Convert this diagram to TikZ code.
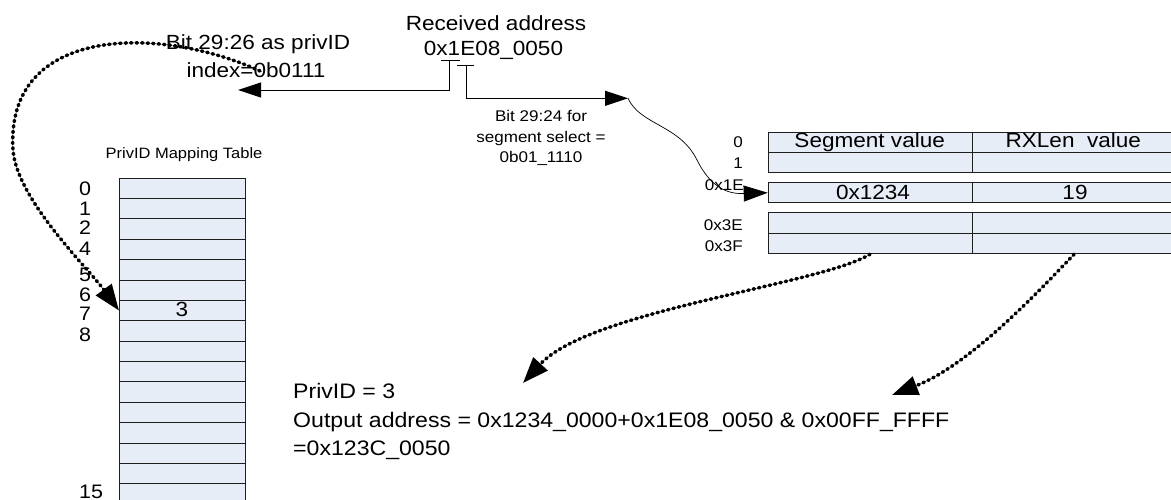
\documentclass[tikz,border=0pt]{standalone}
\usepackage{fontspec}
\setmainfont{Liberation Sans}[FakeStretch=1.1]
\usetikzlibrary{arrows.meta}
\definecolor{cellfill}{RGB}{231,237,247}
\definecolor{edge}{RGB}{30,30,30}
\tikzset{
  cell/.style={draw=edge, line width=0.9pt, fill=cellfill, inner sep=0pt, anchor=north west},
  big/.style={font=\fontsize{20.5}{24}\selectfont, inner sep=0pt, anchor=base},
  bigw/.style={font=\fontsize{21}{24}\selectfont, inner sep=0pt, anchor=base west},
  small/.style={font=\fontsize{15.5}{18}\selectfont, inner sep=0pt, anchor=base},
  smalle/.style={small, anchor=base east},
  digit/.style={font=\fontsize{19.5}{22}\selectfont, inner sep=0pt, anchor=base west},
  thin/.style={draw=black, line width=0.9pt},
  thinarrow/.style={thin, -{Triangle[length=23pt,width=15pt]}},
  beads/.style={draw=black, line width=3.5pt, line cap=round, dash pattern=on 1.5pt off 4pt, -{Triangle[length=26pt,width=19pt]}},
}
\begin{document}
\begin{tikzpicture}[x=1pt,y=-1pt]
\useasboundingbox (0,0) rectangle (1171,500);

% ---------- PrivID mapping table ----------
\foreach \i in {0,...,15} {
  \node[cell, minimum width=126pt, minimum height=20.37pt] (p\i) at (119,{177.7+20.37*\i}) {};
}
\node[small, font=\fontsize{15}{18}\selectfont] (ptitle) at (184,159) {PrivID Mapping Table};
\node[big] (pval) at (182,316) {3};
\node[digit] (d0) at (79,195.7) {0};
\node[digit] (d1) at (79,215) {1};
\node[digit] (d2) at (79,235) {2};
\node[digit] (d4) at (79,255) {4};
\node[digit] (d5) at (79,281.7) {5};
\node[digit] (d6) at (79,301.7) {6};
\node[digit] (d7) at (79,320.7) {7};
\node[digit] (d8) at (79,341.7) {8};
\node[digit] (d15) at (79,498) {15};

% ---------- segment table ----------
\node[cell, minimum width=204pt, minimum height=20pt] (s0a) at (767.7,132.3) {};
\node[cell, minimum width=204pt, minimum height=20pt] (s0b) at (971.7,132.3) {};
\node[cell, minimum width=204pt, minimum height=20pt] (s1a) at (767.7,152.3) {};
\node[cell, minimum width=204pt, minimum height=20pt] (s1b) at (971.7,152.3) {};
\node[cell, minimum width=204pt, minimum height=20pt] (sEa) at (767.7,182.3) {};
\node[cell, minimum width=204pt, minimum height=20pt] (sEb) at (971.7,182.3) {};
\node[cell, minimum width=204pt, minimum height=20.7pt] (s3Ea) at (767.7,212.3) {};
\node[cell, minimum width=204pt, minimum height=20.7pt] (s3Eb) at (971.7,212.3) {};
\node[cell, minimum width=204pt, minimum height=20.3pt] (s3Fa) at (767.7,233) {};
\node[cell, minimum width=204pt, minimum height=20.3pt] (s3Fb) at (971.7,233) {};
\node[big] (segv) at (869.7,148) {Segment value};
\node[big] (rxv) at (1073.3,148) {RXLen\ \ value};
\node[big] (v1234) at (873,200) {0x1234};
\node[big] (v19) at (1075,200) {19};
\node[smalle] (l0) at (743,147.3) {0};
\node[smalle] (l1) at (743,168.3) {1};
\node[smalle] (l1E) at (744,190) {0x1E};
\node[smalle] (l3E) at (743,230) {0x3E};
\node[smalle] (l3F) at (743,251.7) {0x3F};

% ---------- top texts ----------
\node[big] (rec1) at (496,31) {Received address};
\node[big] (rec2) at (493.5,56) {0x1E08\_0050};
\node[big] (bit1) at (258,50) {Bit 29:26 as privID};
\node[big] (bit2) at (256,78) {index=0b0111};
\node[small] (sel1) at (541,122) {Bit 29:24 for};
\node[small] (sel2) at (541,142.5) {segment select =};
\node[small] (sel3) at (541,163) {0b01\_1110};

% ---------- bottom texts ----------
\node[bigw] (out1) at (293,398) {PrivID = 3};
\node[bigw] (out2) at (293,427) {Output address = 0x1234\_0000+0x1E08\_0050 \& 0x00FF\_FFFF};
\node[bigw] (out3) at (293,455) {=0x123C\_0050};

% ---------- connectors ----------
\coordinate (tA1) at (441,60);
\coordinate (tA2) at (460,60);
\coordinate (tA) at (449.5,60);
\coordinate (aL) at (238,90);
\coordinate (tB1) at (457,65.7);
\coordinate (tB2) at (474,65.7);
\coordinate (tB) at (466,65.7);
\coordinate (aR) at (628,98.3);
\draw[thin] (tA1) -- (tA2);
\draw[thinarrow] (tA) |- (aL);
\draw[thin] (tB1) -- (tB2);
\draw[thinarrow] (tB) |- (aR);
\draw[thin, line width=0.7pt, -{Triangle[length=24pt,width=16pt]}] (aR) .. controls (640,125) and (680,125) .. (697,160) .. controls (712,190) and (730,194) .. (sEa.west);

\coordinate (c1s) at (260,71);
\coordinate (c1m) at (13,150);
\draw[beads] (c1s) .. controls (160,25) and (5,25) .. (c1m) .. controls (17,200) and (88,268) .. (p6.west);

\coordinate (c2e) at (523,383);
\draw[beads] (s3Fa.south) .. controls (820,285) and (590,310) .. (c2e);
\coordinate (c3e) at (892,395);
\draw[beads] (s3Fb.south) .. controls (1040,290) and (970,365) .. (c3e);
\end{tikzpicture}
\end{document}
